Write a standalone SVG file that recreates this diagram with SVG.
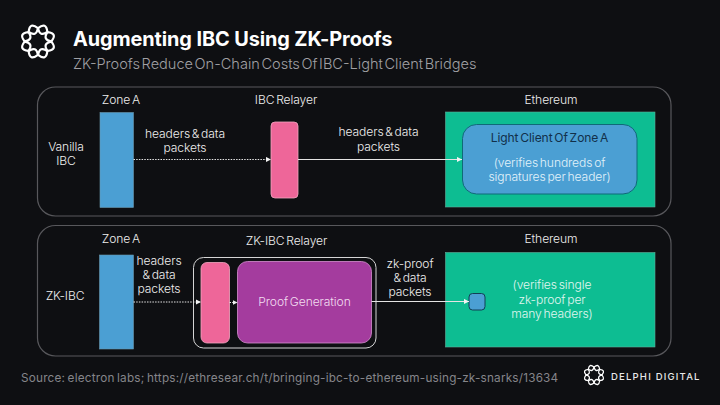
<svg xmlns="http://www.w3.org/2000/svg" width="720" height="405" viewBox="0 0 720 405">
<style>
text{font-family:"Inter","Noto Sans",sans-serif}
.l{font-size:12.100px;font-weight:300;fill:#eeeeee;text-anchor:middle;word-spacing:-1.500px;letter-spacing:-.1px}
.panel{fill:none;stroke:#58585c;stroke-width:1.2}
.a{fill:none;stroke:#e4e4e4;stroke-width:1;marker-end:url(#h)}
.dot{stroke-dasharray:1.5 1.2}
.blue{fill:#4b9fd3;stroke:#6a97ad;stroke-width:.6}
.pink{fill:#ee6699;stroke:#f3a6c0;stroke-width:.8}
.green{fill:#0dbd92;stroke:#5fae9a;stroke-width:.6}
.ring{fill:none;stroke:#fff}
</style>
<defs>
<marker id="h" markerUnits="userSpaceOnUse" markerWidth="6" markerHeight="6" refX="5" refY="3" orient="auto"><path d="M0 .4L5 3L0 5.6Z" fill="#f2f2f2"/></marker>
<path id="lens" d="M-5 -12.400Q0 -21.500 5 -12.400Q0 -4.500 -5 -12.400Z"/>
<g id="logo" class="ring">
<use href="#lens"/><use href="#lens" transform="rotate(45)"/><use href="#lens" transform="rotate(90)"/><use href="#lens" transform="rotate(135)"/><use href="#lens" transform="rotate(180)"/><use href="#lens" transform="rotate(225)"/><use href="#lens" transform="rotate(270)"/><use href="#lens" transform="rotate(315)"/>
</g>
</defs>
<rect width="720" height="405" fill="#0e0f12"/>
<g id="header">
<use href="#logo" transform="translate(38 41.500) rotate(22.500)" stroke-width="2.200"/>
<text x="73" y="46" font-size="19.900" font-weight="700" fill="#fff" style="letter-spacing:-.1px">Augmenting IBC Using ZK-Proofs</text>
<text x="73" y="69" font-size="14.550" font-weight="300" fill="#a0a0a4" style="word-spacing:-2.500px">ZK-Proofs Reduce On-Chain Costs Of IBC-Light Client Bridges</text>
</g>
<g id="panel-vanilla"><rect class="panel" x="37.500" y="87" width="633.500" height="129" rx="18"/><text class="l" x="66" y="151">Vanilla</text><text class="l" x="66" y="165">IBC</text></g>
<g id="panel-zk"><rect class="panel" x="37.500" y="225.500" width="633.500" height="130.500" rx="18"/><text class="l" x="65" y="300">ZK-IBC</text></g>
<g id="zone-a-1"><text class="l" x="121" y="104">Zone A</text><rect class="blue" x="100" y="112.500" width="33.500" height="95"/></g>
<g id="ibc-relayer"><text class="l" x="286" y="104">IBC Relayer</text><rect class="pink" x="271" y="122" width="27" height="76" rx="4"/></g>
<g id="ethereum-1"><text class="l" x="551" y="104">Ethereum</text><rect class="green" x="445.500" y="112" width="209.500" height="95"/></g>
<g id="light-client"><rect x="462.500" y="124.500" width="174.500" height="69.500" rx="14" fill="#4b9fd3" stroke="#0f6a78" stroke-width="1"/>
<text class="l" x="549.500" y="142" style="fill:#12304a;font-weight:400">Light Client Of Zone A</text><text class="l" x="549.500" y="166.500" style="fill:#e2f2fa">(verifies hundreds of</text><text class="l" x="549.500" y="181" style="fill:#e2f2fa">signatures per header)</text></g>
<g id="zone-a-2"><text class="l" x="121" y="243">Zone A</text><rect class="blue" x="99.500" y="255" width="34" height="94"/></g>
<g id="zk-relayer"><text class="l" x="286.500" y="245">ZK-IBC Relayer</text><rect x="193.500" y="257.500" width="182.500" height="90.500" rx="10" fill="none" stroke="#d5d5d5" stroke-width="1"/>
<rect class="pink" x="201" y="262.500" width="28.500" height="80.500" rx="6"/></g>
<g id="proof-generation"><rect x="237.500" y="261.500" width="134" height="81.500" rx="10" fill="#a43c9e" stroke="#d78fd0" stroke-width=".8"/><text class="l" x="304.500" y="306" style="fill:#f2dcf0">Proof Generation</text></g>
<g id="ethereum-2"><text class="l" x="551" y="243">Ethereum</text><rect class="green" x="445.500" y="252.500" width="209.500" height="94.500"/><text class="l" x="552" y="289" style="fill:#e0f6f0">(verifies single</text><text class="l" x="552" y="303.500" style="fill:#e0f6f0">zk-proof per</text><text class="l" x="552" y="317.500" style="fill:#e0f6f0">many headers)</text></g>
<g id="proof-verifier"><rect x="469" y="293.500" width="16" height="16.500" rx="3.500" fill="#4b9fd3" stroke="#123f55" stroke-width="1"/></g>
<g id="connectors">
<path class="a dot" d="M133.500 159.500H271"/>
<path class="a" d="M298 159.500H462"/>
<path class="a dot" d="M133.500 302H201"/>
<path class="a dot" d="M229.500 302.500H237.500"/>
<path class="a" d="M371.500 301.500H469"/>
</g>
<g id="edge-labels">
<text class="l" x="185" y="138">headers &amp; data</text><text class="l" x="185" y="152">packets</text>
<text class="l" x="378.500" y="136">headers &amp; data</text><text class="l" x="378.500" y="150.500">packets</text>
<text class="l" x="159" y="265">headers</text><text class="l" x="159" y="279">&amp; data</text><text class="l" x="159" y="293">packets</text>
<text class="l" x="410" y="268">zk-proof</text><text class="l" x="410" y="282">&amp; data</text><text class="l" x="410" y="296">packets</text>
</g>
<g id="footer">
<text x="21" y="382" font-size="11.750" fill="#85858a" style="letter-spacing:.2px;word-spacing:-1px">Source: electron labs; https://ethresear.ch/t/bringing-ibc-to-ethereum-using-zk-snarks/13634</text>
<use href="#logo" transform="translate(594 375) rotate(22.500) scale(.6)" stroke-width="2.200"/>
<text x="611" y="380" font-size="9.500" fill="#e8e8e8" font-weight="500" style="letter-spacing:1.200px">DELPHI DIGITAL</text>
</g>
</svg>
